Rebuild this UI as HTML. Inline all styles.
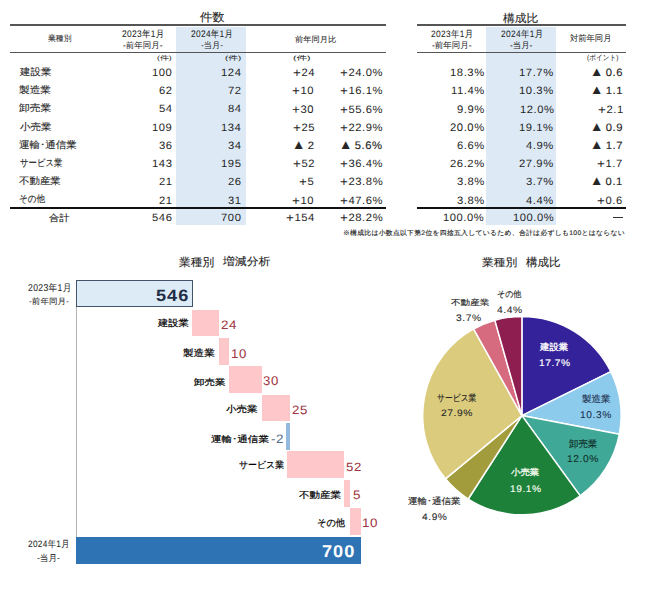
<!DOCTYPE html>
<html lang="ja"><head><meta charset="utf-8"><style>
html,body{margin:0;padding:0;background:#fff;}
body{width:650px;height:596px;position:relative;overflow:hidden;font-family:"Liberation Sans", sans-serif;}
.t{position:absolute;white-space:nowrap;transform-origin:0 0;}
.r{position:absolute;}
</style></head><body>
<div class="r" style="left:176.00px;top:26.50px;width:70.00px;height:198.50px;background:#DDEAF6;"></div>
<div class="r" style="left:486.00px;top:26.50px;width:69.50px;height:198.50px;background:#DDEAF6;"></div>
<div class="r" style="left:10.00px;top:24.20px;width:376.00px;height:1.60px;background:#555555;"></div>
<div class="r" style="left:10.00px;top:51.60px;width:376.00px;height:1.60px;background:#555555;"></div>
<div class="r" style="left:10.00px;top:206.90px;width:376.00px;height:2.20px;background:#111;"></div>
<div class="r" style="left:417.00px;top:24.20px;width:209.00px;height:1.60px;background:#555555;"></div>
<div class="r" style="left:417.00px;top:51.60px;width:209.00px;height:1.60px;background:#555555;"></div>
<div class="r" style="left:417.00px;top:206.90px;width:209.00px;height:2.20px;background:#111;"></div>
<div class="r" style="left:612.60px;top:216.60px;width:10.40px;height:1.00px;background:#333;"></div>
<div class="r" style="left:75.70px;top:307.00px;width:1.00px;height:230.00px;background:#B4B4B4;"></div>
<div class="r" style="left:76.20px;top:280.20px;width:116.80px;height:27.30px;background:#DDEBF7;box-sizing:border-box;border:1px solid #44546A;"></div>
<div class="r" style="left:192.32px;top:309.70px;width:26.23px;height:26.60px;background:#FEC7CA;"></div>
<div class="r" style="left:218.55px;top:338.20px;width:10.93px;height:26.60px;background:#FEC7CA;"></div>
<div class="r" style="left:229.48px;top:366.40px;width:32.79px;height:26.60px;background:#FEC7CA;"></div>
<div class="r" style="left:262.27px;top:394.80px;width:27.32px;height:26.60px;background:#FEC7CA;"></div>
<div class="r" style="left:286.30px;top:423.20px;width:3.40px;height:26.60px;background:#94B8DE;"></div>
<div class="r" style="left:287.41px;top:451.40px;width:56.83px;height:26.60px;background:#FEC7CA;"></div>
<div class="r" style="left:344.24px;top:480.30px;width:5.46px;height:26.60px;background:#FEC7CA;"></div>
<div class="r" style="left:349.70px;top:508.30px;width:10.93px;height:26.60px;background:#FEC7CA;"></div>
<div class="r" style="left:76.20px;top:537.00px;width:284.43px;height:26.60px;background:#2E74B5;"></div>
<svg class="r" style="left:0;top:0" width="650" height="596" viewBox="0 0 650 596"><path d="M521.9,415.6 L521.90,316.40 A99.2,99.2 0 0 1 610.85,371.68 Z" fill="#33229A" stroke="#fff" stroke-width="1.5" stroke-linejoin="round"/><path d="M521.9,415.6 L610.85,371.68 A99.2,99.2 0 0 1 619.34,434.19 Z" fill="#8CCBEC" stroke="#fff" stroke-width="1.5" stroke-linejoin="round"/><path d="M521.9,415.6 L619.34,434.19 A99.2,99.2 0 0 1 580.21,495.85 Z" fill="#40A896" stroke="#fff" stroke-width="1.5" stroke-linejoin="round"/><path d="M521.9,415.6 L580.21,495.85 A99.2,99.2 0 0 1 468.22,499.02 Z" fill="#1D8139" stroke="#fff" stroke-width="1.5" stroke-linejoin="round"/><path d="M521.9,415.6 L468.22,499.02 A99.2,99.2 0 0 1 445.47,478.83 Z" fill="#A29C3C" stroke="#fff" stroke-width="1.5" stroke-linejoin="round"/><path d="M521.9,415.6 L445.47,478.83 A99.2,99.2 0 0 1 473.56,328.97 Z" fill="#DBCB7C" stroke="#fff" stroke-width="1.5" stroke-linejoin="round"/><path d="M521.9,415.6 L473.56,328.97 A99.2,99.2 0 0 1 494.82,320.17 Z" fill="#D66A7E" stroke="#fff" stroke-width="1.5" stroke-linejoin="round"/><path d="M521.9,415.6 L494.82,320.17 A99.2,99.2 0 0 1 521.90,316.40 Z" fill="#8E1D50" stroke="#fff" stroke-width="1.5" stroke-linejoin="round"/></svg>
<div class="t" style="left:199.65px;top:11.22px;color:#262626;font-size:12px;line-height:12px;text-rendering:geometricPrecision;-webkit-text-stroke:0.12px currentColor;transform:scale(1.0250,0.9740);">件数</div>
<div class="t" style="left:502.57px;top:12.67px;color:#262626;font-size:12px;line-height:12px;text-rendering:geometricPrecision;-webkit-text-stroke:0.12px currentColor;transform:scale(0.9841,0.9275);">構成比</div>
<div class="t" style="left:48.13px;top:34.92px;color:#262626;font-size:8px;line-height:8px;text-rendering:geometricPrecision;-webkit-text-stroke:0.04px currentColor;transform:scale(0.9827,1.0189);">業種別</div>
<div class="t" style="left:121.95px;top:30.10px;color:#262626;font-size:8px;line-height:8px;text-rendering:geometricPrecision;-webkit-text-stroke:0.04px currentColor;letter-spacing:0.3px;transform:scale(1.0501,1.1837);">2023年1月</div>
<div class="t" style="left:123.15px;top:42.28px;color:#262626;font-size:8px;line-height:8px;text-rendering:geometricPrecision;-webkit-text-stroke:0.04px currentColor;transform:scale(1.0585,1.0480);">-前年同月-</div>
<div class="t" style="left:191.25px;top:30.10px;color:#262626;font-size:8px;line-height:8px;text-rendering:geometricPrecision;-webkit-text-stroke:0.04px currentColor;letter-spacing:0.3px;transform:scale(1.0448,1.1837);">2024年1月</div>
<div class="t" style="left:200.77px;top:42.37px;color:#262626;font-size:8px;line-height:8px;text-rendering:geometricPrecision;-webkit-text-stroke:0.04px currentColor;transform:scale(1.0354,1.0502);">-当月-</div>
<div class="t" style="left:294.94px;top:35.74px;color:#262626;font-size:8px;line-height:8px;text-rendering:geometricPrecision;-webkit-text-stroke:0.04px currentColor;transform:scale(1.0331,0.9903);">前年同月比</div>
<div class="t" style="left:431.35px;top:29.59px;color:#262626;font-size:8px;line-height:8px;text-rendering:geometricPrecision;-webkit-text-stroke:0.04px currentColor;letter-spacing:0.3px;transform:scale(1.0501,1.1699);">2023年1月</div>
<div class="t" style="left:431.83px;top:42.37px;color:#262626;font-size:8px;line-height:8px;text-rendering:geometricPrecision;-webkit-text-stroke:0.04px currentColor;transform:scale(1.0594,1.0458);">-前年同月-</div>
<div class="t" style="left:500.75px;top:29.59px;color:#262626;font-size:8px;line-height:8px;text-rendering:geometricPrecision;-webkit-text-stroke:0.04px currentColor;letter-spacing:0.3px;transform:scale(1.0501,1.1699);">2024年1月</div>
<div class="t" style="left:509.63px;top:42.37px;color:#262626;font-size:8px;line-height:8px;text-rendering:geometricPrecision;-webkit-text-stroke:0.04px currentColor;transform:scale(1.0511,1.0466);">-当月-</div>
<div class="t" style="left:570.19px;top:34.86px;color:#262626;font-size:8px;line-height:8px;text-rendering:geometricPrecision;-webkit-text-stroke:0.04px currentColor;transform:scale(1.0360,1.0644);">対前年同月</div>
<div class="t" style="left:156.54px;top:55.95px;color:#262626;font-size:7px;line-height:7px;text-rendering:geometricPrecision;-webkit-text-stroke:0.04px currentColor;transform:scale(1.2669,0.8862);">(件)</div>
<div class="t" style="left:225.07px;top:55.51px;color:#262626;font-size:7px;line-height:7px;text-rendering:geometricPrecision;-webkit-text-stroke:0.04px currentColor;transform:scale(1.3802,0.8786);">(件)</div>
<div class="t" style="left:293.02px;top:55.51px;color:#262626;font-size:7px;line-height:7px;text-rendering:geometricPrecision;-webkit-text-stroke:0.04px currentColor;transform:scale(1.4998,0.8786);">(件)</div>
<div class="t" style="left:586.76px;top:54.93px;color:#262626;font-size:7px;line-height:7px;text-rendering:geometricPrecision;-webkit-text-stroke:0.04px currentColor;transform:scale(0.9402,1.0425);">(ポイント)</div>
<div class="t" style="left:19.63px;top:68.05px;color:#262626;font-size:10px;line-height:10px;text-rendering:geometricPrecision;-webkit-text-stroke:0.12px currentColor;transform:scale(1.0450,0.9635);">建設業</div>
<div class="t" style="left:152.03px;top:68.58px;color:#262626;font-size:10px;line-height:10px;text-rendering:geometricPrecision;letter-spacing:0.5px;transform:scale(1.1233,1.0627);">100</div>
<div class="t" style="left:221.10px;top:68.50px;color:#262626;font-size:10px;line-height:10px;text-rendering:geometricPrecision;letter-spacing:0.5px;transform:scale(1.1260,1.0714);">124</div>
<div class="t" style="left:292.87px;top:68.56px;color:#262626;font-size:10px;line-height:10px;text-rendering:geometricPrecision;letter-spacing:0.5px;transform:scale(1.1233,1.0627);"><span style="font-size:1.2em;line-height:1px;vertical-align:-0.07em">+</span>24</div>
<div class="t" style="left:339.98px;top:68.56px;color:#262626;font-size:10px;line-height:10px;text-rendering:geometricPrecision;letter-spacing:0.5px;transform:scale(1.1233,1.0627);"><span style="font-size:1.2em;line-height:1px;vertical-align:-0.07em">+</span>24.0%</div>
<div class="t" style="left:449.80px;top:68.50px;color:#262626;font-size:10px;line-height:10px;text-rendering:geometricPrecision;letter-spacing:0.5px;transform:scale(1.1260,1.0714);">18.3%</div>
<div class="t" style="left:519.49px;top:69.36px;color:#262626;font-size:10px;line-height:10px;text-rendering:geometricPrecision;letter-spacing:0.5px;transform:scale(1.1271,1.0576);">17.7%</div>
<div class="t" style="left:590.25px;top:66.15px;color:#262626;font-size:10px;line-height:10px;text-rendering:geometricPrecision;-webkit-text-stroke:0.12px currentColor;letter-spacing:0.5px;transform:scale(1.1233,1.0627);"><span style="font-size:1.2em;letter-spacing:-1.2px">▲</span> 0.6</div>
<div class="t" style="left:19.45px;top:85.68px;color:#262626;font-size:10px;line-height:10px;text-rendering:geometricPrecision;-webkit-text-stroke:0.12px currentColor;transform:scale(1.0673,0.9613);">製造業</div>
<div class="t" style="left:159.12px;top:87.00px;color:#262626;font-size:10px;line-height:10px;text-rendering:geometricPrecision;letter-spacing:0.5px;transform:scale(1.1182,1.0674);">62</div>
<div class="t" style="left:227.80px;top:87.47px;color:#262626;font-size:10px;line-height:10px;text-rendering:geometricPrecision;letter-spacing:0.5px;transform:scale(1.1271,1.0576);">72</div>
<div class="t" style="left:292.48px;top:86.74px;color:#262626;font-size:10px;line-height:10px;text-rendering:geometricPrecision;letter-spacing:0.5px;transform:scale(1.1260,1.0714);"><span style="font-size:1.2em;line-height:1px;vertical-align:-0.07em">+</span>10</div>
<div class="t" style="left:339.98px;top:87.29px;color:#262626;font-size:10px;line-height:10px;text-rendering:geometricPrecision;letter-spacing:0.5px;transform:scale(1.1233,1.0627);"><span style="font-size:1.2em;line-height:1px;vertical-align:-0.07em">+</span>16.1%</div>
<div class="t" style="left:450.65px;top:87.17px;color:#262626;font-size:10px;line-height:10px;text-rendering:geometricPrecision;letter-spacing:0.5px;transform:scale(1.1233,1.0627);">11.4%</div>
<div class="t" style="left:519.20px;top:86.74px;color:#262626;font-size:10px;line-height:10px;text-rendering:geometricPrecision;letter-spacing:0.5px;transform:scale(1.1260,1.0714);">10.3%</div>
<div class="t" style="left:589.54px;top:84.37px;color:#262626;font-size:10px;line-height:10px;text-rendering:geometricPrecision;-webkit-text-stroke:0.12px currentColor;letter-spacing:0.5px;transform:scale(1.1271,1.0576);"><span style="font-size:1.2em;letter-spacing:-1.2px">▲</span> 1.1</div>
<div class="t" style="left:18.86px;top:104.17px;color:#262626;font-size:10px;line-height:10px;text-rendering:geometricPrecision;-webkit-text-stroke:0.12px currentColor;transform:scale(1.0737,0.9613);">卸売業</div>
<div class="t" style="left:159.30px;top:105.13px;color:#262626;font-size:10px;line-height:10px;text-rendering:geometricPrecision;letter-spacing:0.5px;transform:scale(1.1271,1.0576);">54</div>
<div class="t" style="left:227.89px;top:105.47px;color:#262626;font-size:10px;line-height:10px;text-rendering:geometricPrecision;letter-spacing:0.5px;transform:scale(1.1271,1.0576);">84</div>
<div class="t" style="left:292.31px;top:104.79px;color:#262626;font-size:10px;line-height:10px;text-rendering:geometricPrecision;letter-spacing:0.5px;transform:scale(1.1258,1.0955);"><span style="font-size:1.2em;line-height:1px;vertical-align:-0.07em">+</span>30</div>
<div class="t" style="left:339.98px;top:105.94px;color:#262626;font-size:10px;line-height:10px;text-rendering:geometricPrecision;letter-spacing:0.5px;transform:scale(1.1233,1.0627);"><span style="font-size:1.2em;line-height:1px;vertical-align:-0.07em">+</span>55.6%</div>
<div class="t" style="left:457.35px;top:104.73px;color:#262626;font-size:10px;line-height:10px;text-rendering:geometricPrecision;letter-spacing:0.5px;transform:scale(1.1258,1.0955);">9.9%</div>
<div class="t" style="left:519.77px;top:105.51px;color:#262626;font-size:10px;line-height:10px;text-rendering:geometricPrecision;letter-spacing:0.5px;transform:scale(1.1182,1.0674);">12.0%</div>
<div class="t" style="left:597.76px;top:106.00px;color:#262626;font-size:10px;line-height:10px;text-rendering:geometricPrecision;letter-spacing:0.5px;transform:scale(1.1233,1.0627);"><span style="font-size:1.2em;line-height:1px;vertical-align:-0.07em">+</span>2.1</div>
<div class="t" style="left:19.86px;top:122.74px;color:#262626;font-size:10px;line-height:10px;text-rendering:geometricPrecision;-webkit-text-stroke:0.12px currentColor;transform:scale(1.0534,0.9613);">小売業</div>
<div class="t" style="left:152.18px;top:123.96px;color:#262626;font-size:10px;line-height:10px;text-rendering:geometricPrecision;letter-spacing:0.5px;transform:scale(1.1182,1.0674);">109</div>
<div class="t" style="left:221.33px;top:123.67px;color:#262626;font-size:10px;line-height:10px;text-rendering:geometricPrecision;letter-spacing:0.5px;transform:scale(1.1233,1.0627);">134</div>
<div class="t" style="left:292.61px;top:123.72px;color:#262626;font-size:10px;line-height:10px;text-rendering:geometricPrecision;letter-spacing:0.5px;transform:scale(1.1233,1.0627);"><span style="font-size:1.2em;line-height:1px;vertical-align:-0.07em">+</span>25</div>
<div class="t" style="left:339.98px;top:123.72px;color:#262626;font-size:10px;line-height:10px;text-rendering:geometricPrecision;letter-spacing:0.5px;transform:scale(1.1233,1.0627);"><span style="font-size:1.2em;line-height:1px;vertical-align:-0.07em">+</span>22.9%</div>
<div class="t" style="left:449.87px;top:122.99px;color:#262626;font-size:10px;line-height:10px;text-rendering:geometricPrecision;letter-spacing:0.5px;transform:scale(1.1258,1.0955);">20.0%</div>
<div class="t" style="left:519.14px;top:123.70px;color:#262626;font-size:10px;line-height:10px;text-rendering:geometricPrecision;letter-spacing:0.5px;transform:scale(1.1233,1.0627);">19.1%</div>
<div class="t" style="left:589.98px;top:120.98px;color:#262626;font-size:10px;line-height:10px;text-rendering:geometricPrecision;-webkit-text-stroke:0.12px currentColor;letter-spacing:0.5px;transform:scale(1.1260,1.0714);"><span style="font-size:1.2em;letter-spacing:-1.2px">▲</span> 0.9</div>
<div class="t" style="left:18.81px;top:141.09px;color:#262626;font-size:10px;line-height:10px;text-rendering:geometricPrecision;-webkit-text-stroke:0.12px currentColor;transform:scale(1.0505,0.9665);">運輸･通信業</div>
<div class="t" style="left:158.88px;top:142.43px;color:#262626;font-size:10px;line-height:10px;text-rendering:geometricPrecision;letter-spacing:0.5px;transform:scale(1.1182,1.0674);">36</div>
<div class="t" style="left:227.92px;top:142.41px;color:#262626;font-size:10px;line-height:10px;text-rendering:geometricPrecision;letter-spacing:0.5px;transform:scale(1.1233,1.0627);">34</div>
<div class="t" style="left:292.01px;top:139.32px;color:#262626;font-size:10px;line-height:10px;text-rendering:geometricPrecision;-webkit-text-stroke:0.12px currentColor;letter-spacing:0.5px;transform:scale(1.1260,1.0714);"><span style="font-size:1.2em;letter-spacing:-1.2px">▲</span> 2</div>
<div class="t" style="left:339.34px;top:138.75px;color:#262626;font-size:10px;line-height:10px;text-rendering:geometricPrecision;-webkit-text-stroke:0.12px currentColor;letter-spacing:0.5px;transform:scale(1.1258,1.0955);"><span style="font-size:1.2em;letter-spacing:-1.2px">▲</span> 5.6%</div>
<div class="t" style="left:456.51px;top:142.42px;color:#262626;font-size:10px;line-height:10px;text-rendering:geometricPrecision;letter-spacing:0.5px;transform:scale(1.1233,1.0627);">6.6%</div>
<div class="t" style="left:525.99px;top:142.46px;color:#262626;font-size:10px;line-height:10px;text-rendering:geometricPrecision;letter-spacing:0.5px;transform:scale(1.1271,1.0576);">4.9%</div>
<div class="t" style="left:590.09px;top:139.32px;color:#262626;font-size:10px;line-height:10px;text-rendering:geometricPrecision;-webkit-text-stroke:0.12px currentColor;letter-spacing:0.5px;transform:scale(1.1260,1.0714);"><span style="font-size:1.2em;letter-spacing:-1.2px">▲</span> 1.7</div>
<div class="t" style="left:19.71px;top:158.52px;color:#262626;font-size:10px;line-height:10px;text-rendering:geometricPrecision;-webkit-text-stroke:0.12px currentColor;transform:scale(0.8344,0.9613);">サービス業</div>
<div class="t" style="left:152.19px;top:159.70px;color:#262626;font-size:10px;line-height:10px;text-rendering:geometricPrecision;letter-spacing:0.5px;transform:scale(1.1260,1.0714);">143</div>
<div class="t" style="left:220.96px;top:160.37px;color:#262626;font-size:10px;line-height:10px;text-rendering:geometricPrecision;letter-spacing:0.5px;transform:scale(1.1271,1.0576);">195</div>
<div class="t" style="left:292.61px;top:159.93px;color:#262626;font-size:10px;line-height:10px;text-rendering:geometricPrecision;letter-spacing:0.5px;transform:scale(1.1182,1.0674);"><span style="font-size:1.2em;line-height:1px;vertical-align:-0.07em">+</span>52</div>
<div class="t" style="left:339.98px;top:160.17px;color:#262626;font-size:10px;line-height:10px;text-rendering:geometricPrecision;letter-spacing:0.5px;transform:scale(1.1233,1.0627);"><span style="font-size:1.2em;line-height:1px;vertical-align:-0.07em">+</span>36.4%</div>
<div class="t" style="left:449.90px;top:160.41px;color:#262626;font-size:10px;line-height:10px;text-rendering:geometricPrecision;letter-spacing:0.5px;transform:scale(1.1271,1.0576);">26.2%</div>
<div class="t" style="left:519.20px;top:159.70px;color:#262626;font-size:10px;line-height:10px;text-rendering:geometricPrecision;letter-spacing:0.5px;transform:scale(1.1260,1.0714);">27.9%</div>
<div class="t" style="left:596.97px;top:160.00px;color:#262626;font-size:10px;line-height:10px;text-rendering:geometricPrecision;letter-spacing:0.5px;transform:scale(1.1271,1.0576);"><span style="font-size:1.2em;line-height:1px;vertical-align:-0.07em">+</span>1.7</div>
<div class="t" style="left:19.10px;top:177.10px;color:#262626;font-size:10px;line-height:10px;text-rendering:geometricPrecision;-webkit-text-stroke:0.12px currentColor;transform:scale(1.0445,0.9602);">不動産業</div>
<div class="t" style="left:159.16px;top:178.31px;color:#262626;font-size:10px;line-height:10px;text-rendering:geometricPrecision;letter-spacing:0.5px;transform:scale(1.1271,1.0576);">21</div>
<div class="t" style="left:228.27px;top:178.33px;color:#262626;font-size:10px;line-height:10px;text-rendering:geometricPrecision;letter-spacing:0.5px;transform:scale(1.1271,1.0576);">26</div>
<div class="t" style="left:299.08px;top:177.95px;color:#262626;font-size:10px;line-height:10px;text-rendering:geometricPrecision;letter-spacing:0.5px;transform:scale(1.1271,1.0576);"><span style="font-size:1.2em;line-height:1px;vertical-align:-0.07em">+</span>5</div>
<div class="t" style="left:339.64px;top:177.94px;color:#262626;font-size:10px;line-height:10px;text-rendering:geometricPrecision;letter-spacing:0.5px;transform:scale(1.1260,1.0714);"><span style="font-size:1.2em;line-height:1px;vertical-align:-0.07em">+</span>23.8%</div>
<div class="t" style="left:456.55px;top:177.94px;color:#262626;font-size:10px;line-height:10px;text-rendering:geometricPrecision;letter-spacing:0.5px;transform:scale(1.1260,1.0714);">3.8%</div>
<div class="t" style="left:525.99px;top:178.31px;color:#262626;font-size:10px;line-height:10px;text-rendering:geometricPrecision;letter-spacing:0.5px;transform:scale(1.1271,1.0576);">3.7%</div>
<div class="t" style="left:590.36px;top:175.08px;color:#262626;font-size:10px;line-height:10px;text-rendering:geometricPrecision;-webkit-text-stroke:0.12px currentColor;letter-spacing:0.5px;transform:scale(1.1182,1.0674);"><span style="font-size:1.2em;letter-spacing:-1.2px">▲</span> 0.1</div>
<div class="t" style="left:19.41px;top:195.01px;color:#262626;font-size:10px;line-height:10px;text-rendering:geometricPrecision;-webkit-text-stroke:0.12px currentColor;transform:scale(0.8588,0.9665);">その他</div>
<div class="t" style="left:159.11px;top:196.88px;color:#262626;font-size:10px;line-height:10px;text-rendering:geometricPrecision;letter-spacing:0.5px;transform:scale(1.1182,1.0674);">21</div>
<div class="t" style="left:227.91px;top:196.88px;color:#262626;font-size:10px;line-height:10px;text-rendering:geometricPrecision;letter-spacing:0.5px;transform:scale(1.1182,1.0674);">31</div>
<div class="t" style="left:292.45px;top:196.64px;color:#262626;font-size:10px;line-height:10px;text-rendering:geometricPrecision;letter-spacing:0.5px;transform:scale(1.1233,1.0627);"><span style="font-size:1.2em;line-height:1px;vertical-align:-0.07em">+</span>10</div>
<div class="t" style="left:339.98px;top:196.54px;color:#262626;font-size:10px;line-height:10px;text-rendering:geometricPrecision;letter-spacing:0.5px;transform:scale(1.1233,1.0627);"><span style="font-size:1.2em;line-height:1px;vertical-align:-0.07em">+</span>47.6%</div>
<div class="t" style="left:456.68px;top:196.89px;color:#262626;font-size:10px;line-height:10px;text-rendering:geometricPrecision;letter-spacing:0.5px;transform:scale(1.1182,1.0674);">3.8%</div>
<div class="t" style="left:526.48px;top:196.83px;color:#262626;font-size:10px;line-height:10px;text-rendering:geometricPrecision;letter-spacing:0.5px;transform:scale(1.1182,1.0674);">4.4%</div>
<div class="t" style="left:597.41px;top:196.63px;color:#262626;font-size:10px;line-height:10px;text-rendering:geometricPrecision;letter-spacing:0.5px;transform:scale(1.1233,1.0627);"><span style="font-size:1.2em;line-height:1px;vertical-align:-0.07em">+</span>0.6</div>
<div class="t" style="left:48.79px;top:214.38px;color:#262626;font-size:10px;line-height:10px;text-rendering:geometricPrecision;-webkit-text-stroke:0.12px currentColor;transform:scale(1.0289,0.9305);">合計</div>
<div class="t" style="left:152.40px;top:213.95px;color:#262626;font-size:10px;line-height:10px;text-rendering:geometricPrecision;letter-spacing:0.5px;transform:scale(1.1271,1.0576);">546</div>
<div class="t" style="left:220.68px;top:214.03px;color:#262626;font-size:10px;line-height:10px;text-rendering:geometricPrecision;letter-spacing:0.5px;transform:scale(1.1271,1.0576);">700</div>
<div class="t" style="left:285.96px;top:214.32px;color:#262626;font-size:10px;line-height:10px;text-rendering:geometricPrecision;letter-spacing:0.5px;transform:scale(1.1233,1.0627);"><span style="font-size:1.2em;line-height:1px;vertical-align:-0.07em">+</span>154</div>
<div class="t" style="left:339.64px;top:213.85px;color:#262626;font-size:10px;line-height:10px;text-rendering:geometricPrecision;letter-spacing:0.5px;transform:scale(1.1260,1.0714);"><span style="font-size:1.2em;line-height:1px;vertical-align:-0.07em">+</span>28.2%</div>
<div class="t" style="left:443.37px;top:214.25px;color:#262626;font-size:10px;line-height:10px;text-rendering:geometricPrecision;letter-spacing:0.5px;transform:scale(1.1182,1.0674);">100.0%</div>
<div class="t" style="left:513.17px;top:214.25px;color:#262626;font-size:10px;line-height:10px;text-rendering:geometricPrecision;letter-spacing:0.5px;transform:scale(1.1182,1.0674);">100.0%</div>
<div class="t" style="left:343.30px;top:229.89px;color:#262626;font-size:7px;line-height:7px;text-rendering:geometricPrecision;-webkit-text-stroke:0.15px currentColor;letter-spacing:0.3px;transform:scale(0.9734,0.9489);">※構成比は小数点以下第2位を四捨五入しているため、合計は必ずしも100とはならない</div>
<div class="t" style="left:179.13px;top:257.53px;color:#262626;font-size:11px;line-height:11px;text-rendering:geometricPrecision;-webkit-text-stroke:0.12px currentColor;transform:scale(1.0632,1.0235);">業種別</div>
<div class="t" style="left:222.75px;top:257.23px;color:#262626;font-size:11px;line-height:11px;text-rendering:geometricPrecision;-webkit-text-stroke:0.12px currentColor;transform:scale(1.0779,0.9868);">増減分析</div>
<div class="t" style="left:27.73px;top:284.23px;color:#262626;font-size:8px;line-height:8px;text-rendering:geometricPrecision;-webkit-text-stroke:0.04px currentColor;letter-spacing:0.3px;transform:scale(1.0823,1.2289);">2023年1月</div>
<div class="t" style="left:28.52px;top:298.41px;color:#262626;font-size:8px;line-height:8px;text-rendering:geometricPrecision;-webkit-text-stroke:0.04px currentColor;transform:scale(1.0688,1.0219);">-前年同月-</div>
<div class="t" style="left:28.36px;top:540.29px;color:#262626;font-size:8px;line-height:8px;text-rendering:geometricPrecision;-webkit-text-stroke:0.04px currentColor;letter-spacing:0.3px;transform:scale(1.0343,1.1699);">2024年1月</div>
<div class="t" style="left:37.19px;top:554.00px;color:#262626;font-size:8px;line-height:8px;text-rendering:geometricPrecision;-webkit-text-stroke:0.04px currentColor;transform:scale(1.0745,1.1264);">-当月-</div>
<div class="t" style="left:156.05px;top:288.48px;color:#1F2D45;font-size:15px;line-height:15px;text-rendering:geometricPrecision;font-weight:bold;letter-spacing:0.8px;transform:scale(1.2124,1.0961);">546</div>
<div class="t" style="left:157.53px;top:319.90px;color:#000;font-size:10px;line-height:10px;text-rendering:geometricPrecision;-webkit-text-stroke:0.22px currentColor;transform:scale(1.0293,0.9135);">建設業</div>
<div class="t" style="left:221.13px;top:320.34px;color:#9E3543;font-size:11px;line-height:11px;text-rendering:geometricPrecision;-webkit-text-stroke:0.03px currentColor;letter-spacing:0.5px;transform:scale(1.2165,1.1130);">24</div>
<div class="t" style="left:183.38px;top:348.96px;color:#000;font-size:10px;line-height:10px;text-rendering:geometricPrecision;-webkit-text-stroke:0.22px currentColor;transform:scale(1.0579,0.9343);">製造業</div>
<div class="t" style="left:231.20px;top:348.70px;color:#9E3543;font-size:11px;line-height:11px;text-rendering:geometricPrecision;-webkit-text-stroke:0.03px currentColor;letter-spacing:0.5px;transform:scale(1.1959,1.1516);">10</div>
<div class="t" style="left:194.24px;top:378.89px;color:#000;font-size:10px;line-height:10px;text-rendering:geometricPrecision;-webkit-text-stroke:0.22px currentColor;transform:scale(1.0462,0.8589);">卸売業</div>
<div class="t" style="left:263.11px;top:375.57px;color:#9E3543;font-size:11px;line-height:11px;text-rendering:geometricPrecision;-webkit-text-stroke:0.03px currentColor;letter-spacing:0.5px;transform:scale(1.1959,1.1516);">30</div>
<div class="t" style="left:225.97px;top:406.27px;color:#000;font-size:10px;line-height:10px;text-rendering:geometricPrecision;-webkit-text-stroke:0.22px currentColor;transform:scale(1.0496,0.8982);">小売業</div>
<div class="t" style="left:291.79px;top:405.01px;color:#9E3543;font-size:11px;line-height:11px;text-rendering:geometricPrecision;-webkit-text-stroke:0.03px currentColor;letter-spacing:0.5px;transform:scale(1.2090,1.0966);">25</div>
<div class="t" style="left:211.23px;top:435.77px;color:#000;font-size:10px;line-height:10px;text-rendering:geometricPrecision;-webkit-text-stroke:0.22px currentColor;transform:scale(1.0534,0.8723);">運輸･通信業</div>
<div class="t" style="left:271.48px;top:434.35px;color:#56708A;font-size:11px;line-height:11px;text-rendering:geometricPrecision;-webkit-text-stroke:0.03px currentColor;letter-spacing:0.5px;transform:scale(1.2165,1.1130);">-2</div>
<div class="t" style="left:238.68px;top:461.09px;color:#000;font-size:10px;line-height:10px;text-rendering:geometricPrecision;-webkit-text-stroke:0.22px currentColor;transform:scale(0.8902,0.9353);">サービス業</div>
<div class="t" style="left:345.67px;top:461.91px;color:#9E3543;font-size:11px;line-height:11px;text-rendering:geometricPrecision;-webkit-text-stroke:0.03px currentColor;letter-spacing:0.5px;transform:scale(1.2007,1.0876);">52</div>
<div class="t" style="left:298.61px;top:491.91px;color:#000;font-size:10px;line-height:10px;text-rendering:geometricPrecision;-webkit-text-stroke:0.22px currentColor;transform:scale(1.0525,0.9145);">不動産業</div>
<div class="t" style="left:352.74px;top:490.24px;color:#9E3543;font-size:11px;line-height:11px;text-rendering:geometricPrecision;-webkit-text-stroke:0.03px currentColor;letter-spacing:0.5px;transform:scale(1.2165,1.1130);">5</div>
<div class="t" style="left:316.99px;top:519.46px;color:#000;font-size:10px;line-height:10px;text-rendering:geometricPrecision;-webkit-text-stroke:0.22px currentColor;transform:scale(0.9217,0.9644);">その他</div>
<div class="t" style="left:362.22px;top:518.47px;color:#9E3543;font-size:11px;line-height:11px;text-rendering:geometricPrecision;-webkit-text-stroke:0.03px currentColor;letter-spacing:0.5px;transform:scale(1.2165,1.1130);">10</div>
<div class="t" style="left:322.24px;top:543.38px;color:#fff;font-size:15px;line-height:15px;text-rendering:geometricPrecision;font-weight:bold;letter-spacing:0.8px;transform:scale(1.2162,1.1335);">700</div>
<div class="t" style="left:481.54px;top:258.23px;color:#262626;font-size:11px;line-height:11px;text-rendering:geometricPrecision;-webkit-text-stroke:0.12px currentColor;transform:scale(1.0728,0.9881);">業種別</div>
<div class="t" style="left:525.60px;top:257.53px;color:#262626;font-size:11px;line-height:11px;text-rendering:geometricPrecision;-webkit-text-stroke:0.12px currentColor;transform:scale(1.0461,1.0368);">構成比</div>
<div class="t" style="left:539.77px;top:343.21px;color:#FFFFFF;font-size:9px;line-height:9px;text-rendering:geometricPrecision;-webkit-text-stroke:0.3px currentColor;transform:scale(1.0417,1.0134);">建設業</div>
<div class="t" style="left:538.62px;top:359.24px;color:#FFFFFF;font-size:9px;line-height:9px;text-rendering:geometricPrecision;-webkit-text-stroke:0.15px currentColor;letter-spacing:0.5px;transform:scale(1.1324,1.0605);">17.7%</div>
<div class="t" style="left:581.59px;top:394.54px;color:#1F2F4F;font-size:9px;line-height:9px;text-rendering:geometricPrecision;-webkit-text-stroke:0.15px currentColor;transform:scale(1.0514,1.0319);">製造業</div>
<div class="t" style="left:579.94px;top:409.87px;color:#1F2F4F;font-size:9px;line-height:9px;text-rendering:geometricPrecision;-webkit-text-stroke:0.075px currentColor;letter-spacing:0.5px;transform:scale(1.1348,1.0964);">10.3%</div>
<div class="t" style="left:568.88px;top:439.74px;color:#0F2F2A;font-size:9px;line-height:9px;text-rendering:geometricPrecision;-webkit-text-stroke:0.15px currentColor;transform:scale(1.0470,1.0566);">卸売業</div>
<div class="t" style="left:567.34px;top:454.37px;color:#0F2F2A;font-size:9px;line-height:9px;text-rendering:geometricPrecision;-webkit-text-stroke:0.075px currentColor;letter-spacing:0.5px;transform:scale(1.1348,1.0964);">12.0%</div>
<div class="t" style="left:511.21px;top:468.13px;color:#F4FAEE;font-size:9px;line-height:9px;text-rendering:geometricPrecision;-webkit-text-stroke:0.3px currentColor;transform:scale(1.0467,0.9590);">小売業</div>
<div class="t" style="left:509.82px;top:484.98px;color:#F4FAEE;font-size:9px;line-height:9px;text-rendering:geometricPrecision;-webkit-text-stroke:0.15px currentColor;letter-spacing:0.5px;transform:scale(1.1324,1.0605);">19.1%</div>
<div class="t" style="left:437.12px;top:393.61px;color:#262626;font-size:9px;line-height:9px;text-rendering:geometricPrecision;-webkit-text-stroke:0.15px currentColor;transform:scale(0.8620,1.0222);">サービス業</div>
<div class="t" style="left:441.27px;top:409.15px;color:#262626;font-size:9px;line-height:9px;text-rendering:geometricPrecision;-webkit-text-stroke:0.075px currentColor;letter-spacing:0.5px;transform:scale(1.1414,1.0312);">27.9%</div>
<div class="t" style="left:407.66px;top:497.47px;color:#262626;font-size:9px;line-height:9px;text-rendering:geometricPrecision;-webkit-text-stroke:0.15px currentColor;transform:scale(1.0617,0.9686);">運輸･通信業</div>
<div class="t" style="left:421.62px;top:512.90px;color:#262626;font-size:9px;line-height:9px;text-rendering:geometricPrecision;-webkit-text-stroke:0.075px currentColor;letter-spacing:0.5px;transform:scale(1.1324,1.0605);">4.9%</div>
<div class="t" style="left:450.52px;top:298.63px;color:#262626;font-size:9px;line-height:9px;text-rendering:geometricPrecision;-webkit-text-stroke:0.15px currentColor;transform:scale(1.0629,0.8625);">不動産業</div>
<div class="t" style="left:455.84px;top:313.50px;color:#262626;font-size:9px;line-height:9px;text-rendering:geometricPrecision;-webkit-text-stroke:0.075px currentColor;letter-spacing:0.5px;transform:scale(1.1390,1.0492);">3.7%</div>
<div class="t" style="left:496.82px;top:289.71px;color:#262626;font-size:9px;line-height:9px;text-rendering:geometricPrecision;-webkit-text-stroke:0.15px currentColor;transform:scale(0.8886,0.9710);">その他</div>
<div class="t" style="left:496.95px;top:305.65px;color:#262626;font-size:9px;line-height:9px;text-rendering:geometricPrecision;-webkit-text-stroke:0.075px currentColor;letter-spacing:0.5px;transform:scale(1.1390,1.0492);">4.4%</div>
</body></html>
